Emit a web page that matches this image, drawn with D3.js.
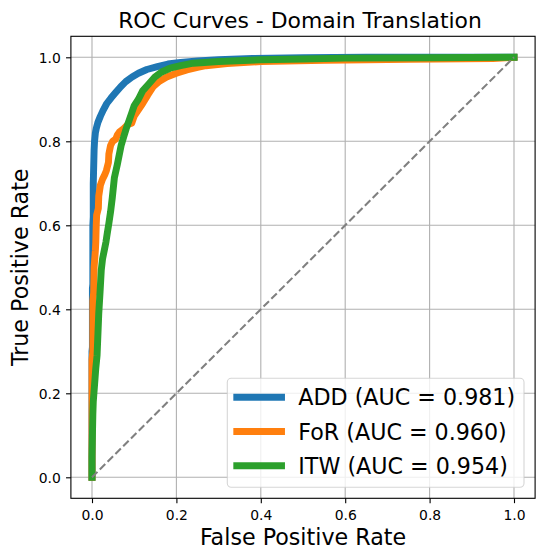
<!DOCTYPE html>
<html>
<head>
<meta charset="utf-8">
<script src="https://cdn.jsdelivr.net/npm/d3@7"></script>
<style>
  html, body { margin: 0; padding: 0; background: #fff; }
  svg { display: block; font-family: "DejaVu Sans", sans-serif; }
</style>
</head>
<body>
<svg id="chart" width="545" height="560"></svg>
<script>
// ---- Data ----
const addFpr = [0, 0, 0.001, 0.001, 0.002, 0.002, 0.003, 0.003, 0.004, 0.005, 0.006, 0.008, 0.010, 0.014, 0.020, 0.027, 0.035, 0.045, 0.055, 0.068, 0.080, 0.095, 0.110, 0.130, 0.155, 0.180, 0.210, 0.250, 0.300, 0.380, 0.500, 0.650, 1.0];
const addTpr = [0, 0.30, 0.31, 0.45, 0.46, 0.60, 0.62, 0.70, 0.74, 0.78, 0.80, 0.82, 0.83, 0.845, 0.86, 0.875, 0.89, 0.903, 0.915, 0.93, 0.942, 0.953, 0.962, 0.971, 0.978, 0.984, 0.988, 0.991, 0.994, 0.997, 0.999, 1.0, 1.0];

const forFpr = [0, 0, 0.002, 0.002, 0.004, 0.005, 0.008, 0.009, 0.010, 0.011, 0.015, 0.016, 0.020, 0.025, 0.030, 0.034, 0.039, 0.040, 0.044, 0.049, 0.056, 0.060, 0.065, 0.075, 0.085, 0.094, 0.100, 0.110, 0.120, 0.132, 0.145, 0.160, 0.177, 0.200, 0.225, 0.250, 0.270, 0.320, 0.400, 0.550, 0.750, 0.950, 1.0];
const forTpr = [0, 0.28, 0.30, 0.42, 0.44, 0.50, 0.54, 0.56, 0.60, 0.624, 0.64, 0.67, 0.696, 0.71, 0.72, 0.73, 0.75, 0.77, 0.79, 0.80, 0.805, 0.815, 0.822, 0.83, 0.84, 0.843, 0.86, 0.875, 0.89, 0.91, 0.93, 0.943, 0.953, 0.962, 0.97, 0.976, 0.98, 0.985, 0.99, 0.993, 0.995, 0.997, 1.0];

const itwFpr = [0, 0, 0.001, 0.002, 0.003, 0.006, 0.009, 0.012, 0.014, 0.016, 0.019, 0.022, 0.025, 0.029, 0.033, 0.036, 0.040, 0.044, 0.048, 0.053, 0.060, 0.069, 0.075, 0.081, 0.088, 0.095, 0.100, 0.110, 0.120, 0.135, 0.149, 0.165, 0.185, 0.210, 0.240, 0.300, 0.400, 0.500, 0.600, 0.800, 1.0];
const itwTpr = [0, 0.05, 0.10, 0.15, 0.18, 0.22, 0.26, 0.29, 0.34, 0.39, 0.44, 0.494, 0.52, 0.54, 0.56, 0.58, 0.605, 0.632, 0.665, 0.713, 0.745, 0.79, 0.81, 0.83, 0.85, 0.87, 0.885, 0.90, 0.92, 0.937, 0.953, 0.965, 0.974, 0.98, 0.986, 0.99, 0.994, 0.996, 0.998, 0.999, 1.0];

const seriesNames = ["ADD", "FoR", "ITW"];
const seriesAuc = ["0.981", "0.960", "0.954"];
const seriesColors = ["#1f77b4", "#ff7f0e", "#2ca02c"];
const xTicks = [0.0, 0.2, 0.4, 0.6, 0.8, 1.0];
const yTicks = [0.0, 0.2, 0.4, 0.6, 0.8, 1.0];
const titleText = "ROC Curves - Domain Translation";
const xLabel = "False Positive Rate";
const yLabel = "True Positive Rate";

// ---- Build ----
const series = [
  { name: seriesNames[0], auc: seriesAuc[0], color: seriesColors[0], pts: addFpr.map((f, i) => [f, addTpr[i]]) },
  { name: seriesNames[1], auc: seriesAuc[1], color: seriesColors[1], pts: forFpr.map((f, i) => [f, forTpr[i]]) },
  { name: seriesNames[2], auc: seriesAuc[2], color: seriesColors[2], pts: itwFpr.map((f, i) => [f, itwTpr[i]]) }
];

const L = 70.9, R = 535.1, T = 36.3, B = 498.3;
const x = d3.scaleLinear().domain([-0.05, 1.05]).range([L, R]);
const y = d3.scaleLinear().domain([-0.05, 1.05]).range([B, T]);

const svg = d3.select("#chart");
svg.append("rect").attr("width", 545).attr("height", 560).attr("fill", "#fff");

// grid
const grid = svg.append("g");
grid.selectAll(".gx").data(xTicks).enter().append("line")
  .attr("x1", d => x(d)).attr("x2", d => x(d)).attr("y1", T).attr("y2", B)
  .attr("stroke", "#b0b0b0").attr("stroke-width", 1.1);
grid.selectAll(".gy").data(yTicks).enter().append("line")
  .attr("y1", d => y(d)).attr("y2", d => y(d)).attr("x1", L).attr("x2", R)
  .attr("stroke", "#b0b0b0").attr("stroke-width", 1.1);

// clip
svg.append("clipPath").attr("id", "clip").append("rect")
  .attr("x", L).attr("y", T).attr("width", R - L).attr("height", B - T);
const plot = svg.append("g").attr("clip-path", "url(#clip)");

const line = d3.line().x(d => x(d[0])).y(d => y(d[1]));
series.forEach(s => {
  plot.append("path").datum(s.pts)
    .attr("d", line).attr("fill", "none")
    .attr("stroke", s.color).attr("stroke-width", 6.94)
    .attr("stroke-linecap", "square").attr("stroke-linejoin", "round");
});
plot.append("path").datum([[0, 0], [1, 1]])
  .attr("d", line).attr("fill", "none")
  .attr("stroke", "#808080").attr("stroke-width", 2.08)
  .attr("stroke-dasharray", "7.7,3.3");

// axes
const xAxis = d3.axisBottom(x).tickValues(xTicks).tickFormat(d3.format(".1f")).tickSize(4.86).tickPadding(6.5);
const yAxis = d3.axisLeft(y).tickValues(yTicks).tickFormat(d3.format(".1f")).tickSize(4.86).tickPadding(5.2);
const gx = svg.append("g").attr("transform", `translate(0,${B})`).call(xAxis);
const gy = svg.append("g").attr("transform", `translate(${L},0)`).call(yAxis);
[gx, gy].forEach(g => {
  g.select(".domain").remove();
  g.selectAll(".tick line").attr("stroke", "#000").attr("stroke-width", 1.1);
  g.selectAll(".tick text").attr("fill", "#000").style("font-size", "13.9px").style("font-family", "DejaVu Sans");
});
gy.selectAll(".tick text").attr("dy", "0.36em");

// spines
svg.append("rect").attr("x", L).attr("y", T).attr("width", R - L).attr("height", B - T)
  .attr("fill", "none").attr("stroke", "#000").attr("stroke-width", 1.1);

// title & labels
svg.append("text").attr("x", 300).attr("y", 28.3).attr("text-anchor", "middle")
  .style("font-size", "21.9px").text(titleText);
svg.append("text").attr("x", (L + R) / 2).attr("y", 545).attr("text-anchor", "middle")
  .style("font-size", "22.2px").text(xLabel);
svg.append("text").attr("transform", `translate(28,${(T + B) / 2}) rotate(-90)`).attr("text-anchor", "middle")
  .style("font-size", "22.2px").text(yLabel);

// legend
const lg = svg.append("g");
lg.append("rect").attr("x", 227.3).attr("y", 378.3).attr("width", 296.7).attr("height", 109)
  .attr("rx", 4).attr("ry", 4)
  .attr("fill", "#fff").attr("fill-opacity", 0.8)
  .attr("stroke", "#cccccc").attr("stroke-opacity", 0.8).attr("stroke-width", 1.1);
const rowY = [397.3, 431.5, 465.7];
series.forEach((s, i) => {
  lg.append("line").attr("x1", 236.8).attr("x2", 281.5).attr("y1", rowY[i]).attr("y2", rowY[i])
    .attr("stroke", s.color).attr("stroke-width", 6.94).attr("stroke-linecap", "square");
  lg.append("text").attr("x", 298.3).attr("y", rowY[i] + 8.1)
    .style("font-size", "22.2px").text(`${s.name} (AUC = ${s.auc})`);
});
</script>
</body>
</html>
